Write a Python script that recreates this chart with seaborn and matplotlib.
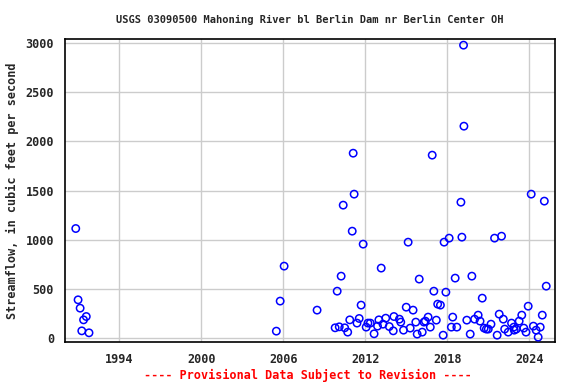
import matplotlib
matplotlib.use('Agg')
import matplotlib.pyplot as plt
import seaborn as sns
import pandas as pd

# decimal year of each measurement and the streamflow (cfs)
years = [
    1990.83, 1991.00, 1991.15, 1991.60, 1991.40, 1991.27, 1991.80,
    2005.50, 2005.78, 2006.07, 2008.48, 2009.80, 2009.95, 2010.10, 2010.24,
    2010.39, 2010.50, 2010.72, 2010.87, 2011.05, 2011.12, 2011.19, 2011.40,
    2011.56, 2011.70, 2011.85, 2012.07, 2012.20, 2012.37, 2012.65, 2012.90,
    2013.00, 2013.17, 2013.30, 2013.50, 2013.76, 2014.05, 2014.10, 2014.50,
    2014.60, 2014.80, 2015.00, 2015.14, 2015.29, 2015.50, 2015.70, 2015.80,
    2015.95, 2016.17, 2016.30, 2016.40, 2016.60, 2016.76, 2016.90, 2017.02,
    2017.20, 2017.30, 2017.50, 2017.70, 2017.77, 2017.90, 2018.14, 2018.30,
    2018.40, 2018.58, 2018.70, 2019.00, 2019.07, 2019.19, 2019.22, 2019.43,
    2019.68, 2019.80, 2020.00, 2020.26, 2020.40, 2020.56, 2020.70, 2020.86,
    2021.00, 2021.20, 2021.46, 2021.65, 2021.80, 2021.97, 2022.10, 2022.20,
    2022.46, 2022.70, 2022.87, 2022.90, 2023.05, 2023.26, 2023.45, 2023.60,
    2023.76, 2023.92, 2024.14, 2024.30, 2024.50, 2024.65, 2024.80, 2024.95,
    2025.10, 2025.24,
]
flow = [
    1113, 387, 302, 217, 183, 71, 51,
    68, 374, 730, 282, 102, 475, 112, 628,
    1351, 102, 58, 183, 1086, 1880, 1463, 150,
    197, 333, 954, 109, 150, 150, 41, 119,
    183, 710, 139, 200, 115, 71, 217, 190,
    160, 78, 312, 974, 99, 282, 160, 38,
    598, 58, 160, 170, 211, 109, 1860, 475,
    180, 343, 333, 27, 974, 465, 1015, 109,
    211, 608, 109, 1381, 1025, 2980, 2155, 180,
    38, 628, 190, 231, 170, 404, 99, 89,
    89, 139, 1015, 27, 241, 1035, 190, 89,
    58, 150, 109, 78, 89, 170, 231, 99,
    58, 322, 1463, 119, 78, 7, 109, 231,
    1392, 526,
]
xticks = [1994, 2000, 2006, 2012, 2018, 2024]
yticks = [0, 500, 1000, 1500, 2000, 2500, 3000]

df = pd.DataFrame({'year': years, 'flow': flow})

sns.set_style('white')
plt.rcParams['font.family'] = ['DejaVu Sans Mono']
plt.rcParams['font.weight'] = 'bold'

fig = plt.figure(figsize=(5.76, 3.84), dpi=100)
ax = fig.add_axes([0.113, 0.109, 0.851, 0.789])

sns.scatterplot(x='year', y='flow', data=df, ax=ax, marker='o', s=28,
                facecolors='none', edgecolor='blue', linewidth=1.1, zorder=3)

ax.set_xlim(1990.05, 2025.9)
ax.set_ylim(-44, 3041)
ax.set_xticks(xticks)
ax.set_yticks(yticks)
ax.grid(True, color='#cccccc', linewidth=1.0)
ax.set_axisbelow(True)
for s in ax.spines.values():
    s.set_color('black')
    s.set_linewidth(1.2)
ax.tick_params(axis='both', direction='out', length=3, width=1, color='black',
               labelsize=8.5, pad=5)
for lab in ax.get_xticklabels() + ax.get_yticklabels():
    lab.set_fontweight('bold')

ax.set_xlabel('')
ax.set_ylabel('Streamflow, in cubic feet per second', fontsize=8.5,
              fontweight='bold', labelpad=5)

fig.text(0.538, 0.948, 'USGS 03090500 Mahoning River bl Berlin Dam nr Berlin Center OH',
         ha='center', va='center', fontsize=7.5, fontweight='bold')
fig.text(0.535, 0.023, '---- Provisional Data Subject to Revision ----',
         ha='center', va='center', fontsize=8.5, fontweight='bold', color='red')

fig.savefig('out.png', dpi=100)
